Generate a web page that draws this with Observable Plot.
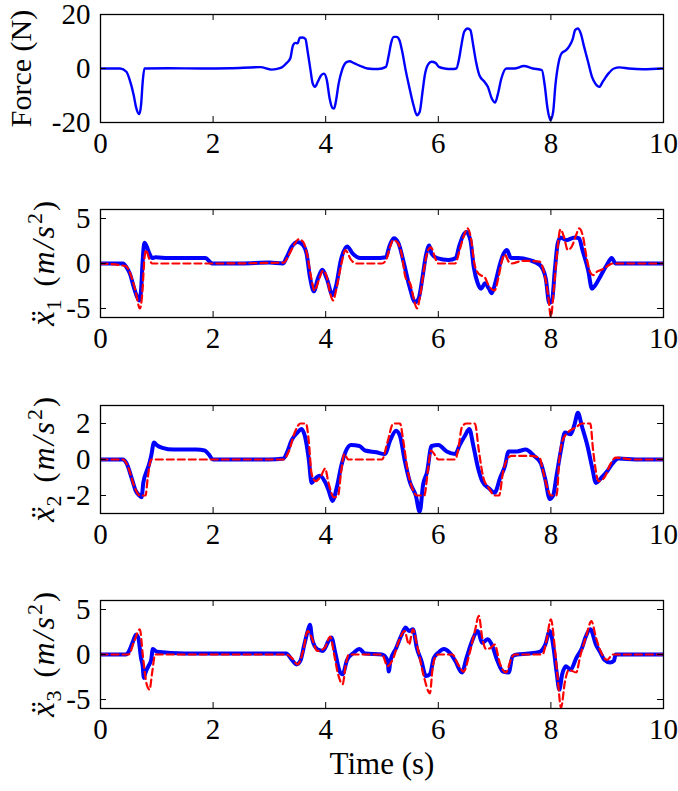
<!DOCTYPE html>
<html><head><meta charset="utf-8">
<script src="https://cdn.jsdelivr.net/npm/d3@7"></script>
<script src="https://cdn.jsdelivr.net/npm/@observablehq/plot@0.6"></script>
<style>
body{margin:0;background:#fff;}
#wrap{position:relative;width:678px;height:791px;overflow:hidden;}
#wrap > svg{position:absolute;left:0;}
</style></head><body><div id="wrap"></div>
<script>
// ---- data (time s, value) ----
const xTicks = [0, 2, 4, 6, 8, 10];
const forceTicks = [-20, 0, 20];
const acc1Ticks = [-5, 0, 5];
const acc2Ticks = [-2, 0, 2];
const acc3Ticks = [-5, 0, 5];

const force = [[0,0],[0.35,0],[0.46,-1.2],[0.52,-4.3],[0.59,-9.9],[0.63,-14.2],[0.69,-16.9],[0.72,-13.6],[0.75,-4.9],[0.78,0],[1.2,0.1],[1.8,0],[2.3,0.1],[2.84,0.5],[3.04,-0.4],[3.2,0.2],[3.3,1.9],[3.37,3.7],[3.42,8.6],[3.46,9.5],[3.5,9.3],[3.54,11.4],[3.59,11.5],[3.64,10.9],[3.68,6.2],[3.73,-0.6],[3.77,-5.6],[3.81,-6.8],[3.86,-4.9],[3.92,-2.5],[3.97,-1.9],[4.02,-4.3],[4.07,-11.1],[4.12,-14.6],[4.15,-14.8],[4.18,-12.3],[4.23,-5.6],[4.29,-0.6],[4.36,2.2],[4.42,2.7],[4.51,1.9],[4.61,1.0],[4.74,0],[4.93,-0.2],[5.07,0.6],[5.12,4.9],[5.16,9.3],[5.21,11.7],[5.26,11.7],[5.31,10.5],[5.36,6.2],[5.42,-0.6],[5.49,-7.4],[5.56,-13.6],[5.62,-17.3],[5.67,-16.0],[5.72,-8.6],[5.76,-2.5],[5.82,1.5],[5.88,2.5],[5.95,2.1],[6.01,0.6],[6.11,0],[6.24,-0.2],[6.32,0],[6.37,3.7],[6.41,8.6],[6.46,13.6],[6.52,14.8],[6.57,14.2],[6.62,8.6],[6.67,2.5],[6.73,-2.5],[6.82,-4.9],[6.88,-6.8],[6.95,-11.1],[7.01,-12.6],[7.06,-9.3],[7.12,-3.7],[7.21,0],[7.35,0],[7.52,0.9],[7.68,0],[7.84,-0.6],[7.89,-6.2],[7.94,-14.8],[7.99,-19.1],[8.04,-16.0],[8.08,-6.2],[8.14,2.5],[8.19,5.6],[8.27,6.8],[8.33,8.4],[8.39,11.1],[8.43,14.2],[8.48,14.8],[8.53,13.0],[8.59,8.0],[8.66,2.5],[8.73,-3.1],[8.79,-5.6],[8.86,-6.8],[8.92,-4.9],[9.02,-1.9],[9.12,0],[9.22,0.4],[9.38,0],[9.64,-0.3],[10,0]];

const acc1Measured = [[0,0],[0.4,0],[0.46,-0.4],[0.52,-1.1],[0.59,-2.6],[0.65,-3.7],[0.69,-4.1],[0.72,-3.0],[0.75,0.4],[0.78,2.3],[0.82,1.9],[0.87,1.1],[0.92,0.6],[0.98,0.7],[1.2,0.6],[1.5,0.6],[1.86,0.6],[1.99,0],[2.5,0],[3.0,0.1],[3.24,0],[3.3,0.6],[3.4,1.9],[3.5,2.4],[3.59,2.1],[3.66,1.1],[3.72,-1.5],[3.79,-3.1],[3.86,-1.7],[3.94,-0.7],[4.02,-1.7],[4.12,-3.5],[4.18,-2.6],[4.27,0.4],[4.38,1.9],[4.48,1.1],[4.61,0.6],[4.87,0.6],[5.07,0.7],[5.13,1.9],[5.21,2.8],[5.29,2.3],[5.39,0],[5.49,-2.6],[5.59,-4.3],[5.65,-3.9],[5.72,-1.5],[5.78,0.9],[5.84,2.0],[5.88,1.1],[5.98,0.6],[6.18,0.4],[6.31,0.6],[6.37,1.9],[6.44,3.1],[6.5,3.5],[6.57,2.6],[6.63,-0.4],[6.7,-2.2],[6.76,-2.8],[6.83,-2.2],[6.9,-2.8],[6.95,-3.3],[7.01,-2.2],[7.09,-0.2],[7.16,1.1],[7.22,1.5],[7.29,0.6],[7.42,0.6],[7.61,0.4],[7.81,-0.2],[7.91,-1.7],[7.97,-4.4],[8.02,-4.1],[8.07,-0.7],[8.12,2.2],[8.17,2.9],[8.27,2.6],[8.37,2.8],[8.43,2.9],[8.5,2.8],[8.56,1.5],[8.66,-0.7],[8.73,-2.8],[8.79,-2.4],[8.89,-1.3],[8.99,-0.2],[9.08,0.6],[9.15,0],[9.5,0],[10,0]];
const acc1Model = [[0,0],[0.45,-0.3],[0.55,-1.5],[0.62,-3.0],[0.7,-5.0],[0.74,-3.5],[0.78,0.5],[0.81,1.5],[0.86,0.6],[0.92,0],[1.5,0],[2.0,0],[3.25,0.1],[3.35,1.0],[3.45,2.2],[3.52,2.7],[3.6,2.4],[3.67,1.0],[3.74,-1.5],[3.8,-3.0],[3.88,-1.8],[3.95,-0.8],[4.02,-1.5],[4.08,-3.3],[4.13,-4.1],[4.2,-2.5],[4.28,0],[4.35,1.5],[4.45,0.4],[4.55,0],[5.0,0],[5.08,0.5],[5.14,1.8],[5.2,2.6],[5.28,2.3],[5.35,1.0],[5.42,-1.6],[5.5,-2.2],[5.56,-3.8],[5.62,-5.0],[5.68,-3.5],[5.75,-0.5],[5.82,1.5],[5.87,1.8],[5.95,0.5],[6.0,0],[6.3,0],[6.38,1.5],[6.45,3.0],[6.52,3.9],[6.58,2.8],[6.64,0],[6.7,-1.0],[6.75,-1.3],[6.82,-1.5],[6.9,-2.5],[7.0,-3.0],[7.07,-1.5],[7.13,0.3],[7.18,1.0],[7.25,0.2],[7.3,0],[7.5,0.3],[7.8,0.2],[7.88,-1.0],[7.95,-3.5],[8.0,-5.9],[8.05,-3.0],[8.1,0.5],[8.17,3.8],[8.23,3.0],[8.3,1.5],[8.38,2.0],[8.45,3.2],[8.5,3.9],[8.57,3.0],[8.63,0.8],[8.7,-1.0],[8.75,-1.3],[8.82,-0.9],[8.9,-0.7],[9.0,-0.3],[9.1,0],[10,0]];

const acc2Measured = [[0,0],[0.4,0],[0.46,-0.2],[0.56,-1.1],[0.62,-1.7],[0.69,-2.0],[0.73,-2.1],[0.76,-1.3],[0.82,-0.65],[0.86,-0.3],[0.9,0.2],[0.95,0.95],[1.0,0.8],[1.1,0.65],[1.3,0.55],[1.5,0.55],[1.7,0.55],[1.85,0.5],[1.92,0.3],[2.0,0],[2.5,0],[3.0,0],[3.25,0.05],[3.3,0.3],[3.4,1.1],[3.5,1.5],[3.57,1.7],[3.63,1.3],[3.7,0],[3.75,-1.3],[3.8,-1.1],[3.9,-0.9],[3.98,-1.2],[4.05,-1.7],[4.12,-2.3],[4.2,-1.5],[4.28,-0.3],[4.35,0.4],[4.45,0.8],[4.6,0.75],[4.7,0.5],[4.9,0.4],[5.05,0.3],[5.15,1.1],[5.25,1.6],[5.32,1.3],[5.4,0],[5.5,-1.3],[5.6,-2.0],[5.67,-2.9],[5.73,-1.4],[5.8,-0.7],[5.88,0.75],[6.0,0.8],[6.15,0.45],[6.3,0.3],[6.38,0.8],[6.47,1.3],[6.55,1.7],[6.62,0.8],[6.7,-0.4],[6.78,-1.2],[6.9,-1.6],[7.0,-1.85],[7.1,-1.0],[7.18,-0.4],[7.25,0.45],[7.4,0.45],[7.55,0.55],[7.7,0.2],[7.82,-0.2],[7.9,-1.1],[7.98,-2.2],[8.04,-2.0],[8.1,-0.9],[8.18,0.55],[8.25,1.5],[8.35,1.4],[8.42,1.95],[8.48,2.6],[8.55,1.85],[8.65,0.75],[8.73,-0.4],[8.8,-1.3],[8.9,-1.0],[9.0,-0.65],[9.1,-0.2],[9.2,0.05],[9.5,0],[10,0]];
const acc2Model = [[0,0],[0.4,0],[0.5,-0.5],[0.6,-1.5],[0.7,-2.0],[0.8,-2.0],[0.84,-1.0],[0.9,0],[2.0,0],[3.25,0],[3.35,0.5],[3.45,1.5],[3.55,2.0],[3.65,2.0],[3.7,1.0],[3.75,-0.8],[3.82,-1.2],[3.92,-0.9],[3.99,-0.5],[4.05,-1.3],[4.15,-2.1],[4.22,-2.0],[4.27,-0.8],[4.33,0.3],[4.4,0],[5.0,0],[5.1,1.0],[5.2,2.0],[5.32,2.0],[5.38,1.0],[5.45,-0.5],[5.55,-1.7],[5.62,-2.0],[5.75,-2.0],[5.82,-0.5],[5.87,0.5],[5.95,0.2],[6.0,0],[6.3,0],[6.35,0.5],[6.42,1.8],[6.5,2.0],[6.65,2.0],[6.72,0.5],[6.8,-1.0],[6.9,-1.6],[7.0,-2.0],[7.08,-2.0],[7.15,-0.7],[7.22,0],[7.3,0.2],[7.6,0.2],[7.8,0.1],[7.85,-0.5],[7.95,-1.7],[8.0,-2.0],[8.1,-2.0],[8.15,0],[8.2,1.0],[8.3,1.5],[8.45,1.8],[8.55,2.0],[8.7,2.0],[8.75,0.5],[8.85,-1.2],[8.95,-1.0],[9.05,-0.3],[9.15,0.1],[9.5,0],[10,0]];

const acc3Measured = [[0,0],[0.45,0],[0.5,0.3],[0.58,1.5],[0.63,2.2],[0.67,1.9],[0.72,-0.4],[0.75,-1.3],[0.77,-2.6],[0.8,-2.0],[0.85,-1.3],[0.9,-0.6],[0.93,0.6],[1.0,0.3],[1.5,0.1],[2.5,0.1],[3.3,0.1],[3.4,-0.6],[3.48,-1.1],[3.55,-0.7],[3.62,1.1],[3.68,2.6],[3.72,3.3],[3.76,1.7],[3.85,0.6],[3.95,0.4],[4.05,1.5],[4.1,1.9],[4.17,0.2],[4.25,-1.9],[4.3,-2.2],[4.38,-0.6],[4.5,0.2],[4.6,0.6],[4.7,0.1],[5.0,0],[5.1,-0.7],[5.12,-1.9],[5.15,-0.7],[5.25,0.7],[5.35,2.2],[5.42,3.0],[5.48,2.6],[5.55,2.8],[5.62,0.7],[5.7,-0.7],[5.78,-2.4],[5.85,-2.2],[5.92,-0.4],[6.0,0.2],[6.1,0.6],[6.2,0.2],[6.3,-0.7],[6.42,-2.0],[6.5,-0.4],[6.6,1.5],[6.7,2.6],[6.78,1.3],[6.88,1.7],[6.95,1.1],[7.05,-0.7],[7.15,-1.9],[7.25,-2.0],[7.32,-0.2],[7.4,0],[7.6,0.1],[7.8,0.3],[7.9,1.1],[7.98,2.6],[8.05,0.6],[8.1,-1.9],[8.15,-3.9],[8.2,-2.2],[8.27,-1.3],[8.35,-1.7],[8.45,-0.4],[8.55,0.7],[8.62,2.0],[8.7,2.8],[8.8,1.1],[8.88,0.2],[8.95,-0.6],[9.05,-0.9],[9.12,-0.7],[9.15,0],[9.5,0],[10,0]];
const acc3Model = [[0,0],[0.5,0],[0.6,1.5],[0.7,2.8],[0.75,0],[0.82,-3.3],[0.87,-3.9],[0.92,-1.9],[0.97,0],[2.0,0],[3.3,0],[3.4,-0.4],[3.5,-1.1],[3.6,0.4],[3.68,2.6],[3.75,1.9],[3.85,0.4],[3.98,0.7],[4.08,2.0],[4.15,0],[4.22,-2.2],[4.3,-3.3],[4.36,-1.0],[4.41,0],[5.0,0],[5.1,-1.3],[5.2,-0.4],[5.3,1.5],[5.4,2.6],[5.48,1.1],[5.55,2.8],[5.62,1.1],[5.75,-2.6],[5.85,-4.3],[5.9,-1.5],[5.95,-0.2],[6.0,0],[6.25,0],[6.35,-1.1],[6.45,-1.9],[6.55,0],[6.65,2.6],[6.72,4.3],[6.78,1.9],[6.85,0.6],[6.92,0.7],[7.0,1.1],[7.1,-1.1],[7.2,-2.0],[7.3,-0.4],[7.35,0],[7.85,0],[7.92,1.5],[8.0,3.9],[8.07,0.7],[8.12,-2.6],[8.18,-5.9],[8.25,-3.0],[8.32,-1.7],[8.45,-2.0],[8.52,-0.2],[8.62,1.9],[8.72,3.7],[8.8,1.9],[8.88,0.4],[9.0,-0.6],[9.1,0],[10,0]];

const xLabel = "Time (s)";
const forceLabel = "Force (N)";
const accSubs = ["1", "2", "3"];

// ---- rendering ----
const FONT = "Liberation Serif";
const W = 678, ML = 100, MR = 15, FH = 108, FW = W - ML - MR;
const BLUE = "#0000ff", RED = "#ff0000";
const wrap = document.getElementById("wrap");

function panel({top, height, domain, ticks, measured, model, label, math, xTitle}) {
  const marks = [];
  if (measured) marks.push(Plot.line(measured, {x: d => d[0], y: d => d[1], stroke: BLUE, strokeWidth: model ? 4 : 2.4, curve: "monotone-x", clip: true}));
  if (model) marks.push(Plot.line(model, {x: d => d[0], y: d => d[1], stroke: RED, strokeWidth: 2.2, strokeDasharray: "7,4", curve: "monotone-x", clip: true}));
  const innerX = xTicks.slice(1, -1);
  marks.push(
    Plot.tickX(innerX, {x: d => d, insetBottom: FH - 6, stroke: "black", strokeWidth: 1}),
    Plot.tickX(innerX, {x: d => d, insetTop: FH - 6, stroke: "black", strokeWidth: 1}),
    Plot.tickY(ticks, {y: d => d, insetRight: FW - 6, stroke: "black", strokeWidth: 1}),
    Plot.tickY(ticks, {y: d => d, insetLeft: FW - 6, stroke: "black", strokeWidth: 1}),
    Plot.frame({stroke: "black", strokeWidth: 1.3}),
    Plot.axisX({ticks: xTicks, tickSize: 0, tickPadding: 10, tickFormat: d => String(d), fontSize: 29, fontFamily: FONT, label: null}),
    Plot.axisY({ticks, tickSize: 0, tickPadding: 10, tickFormat: d => String(d), fontSize: 29, fontFamily: FONT, label: null}),
    Plot.text([label], {text: d => d, frameAnchor: "left", textAnchor: "middle", rotate: -90, dx: math ? -56 : -79, fontSize: 30, fontFamily: FONT, className: "ylab", letterSpacing: math ? null : "2px"})
  );
  if (xTitle) marks.push(Plot.text([xTitle], {text: d => d, frameAnchor: "bottom", textAnchor: "middle", dy: 65, fontSize: 31, fontFamily: FONT, letterSpacing: "2px"}));
  const svg = Plot.plot({
    width: W, height,
    marginLeft: ML, marginRight: MR, marginTop: 14, marginBottom: height - 14 - FH,
    x: {domain: [0, 10]},
    y: {domain},
    style: {fontFamily: FONT, fontSize: "29px", color: "black", background: "transparent", overflow: "visible"},
    marks
  });
  svg.style.top = top + "px";
  if (math) {
    const t = svg.querySelector(".ylab text");
    while (t.firstChild) t.removeChild(t.firstChild);
    const add = (s, attrs) => {
      const ts = document.createElementNS("http://www.w3.org/2000/svg", "tspan");
      ts.textContent = s;
      for (const k in attrs) ts.setAttribute(k, attrs[k]);
      t.appendChild(ts);
    };
    add("x\u0308", {"font-style": "italic", "font-size": "33"});
    add(math, {"font-size": "22", dy: "7", dx: "1"});
    add("(", {dy: "-7", dx: "13"});
    add("m", {"font-style": "italic", dx: "2", "font-size": "32"});
    add("/", {"font-style": "italic", dx: "2", "font-size": "32"});
    add("s", {"font-style": "italic", dx: "2", "font-size": "32"});
    add("2", {"font-size": "22", dy: "-12", dx: "2"});
    add(")", {dy: "12", dx: "2"});
  }
  wrap.appendChild(svg);
}

panel({top: 0, height: 190, domain: [-20, 20], ticks: forceTicks, measured: force, label: forceLabel});
panel({top: 195, height: 190, domain: [-6, 6], ticks: acc1Ticks, measured: acc1Measured, model: acc1Model, label: "x1 (m/s2)", math: accSubs[0]});
panel({top: 391, height: 190, domain: [-3, 3], ticks: acc2Ticks, measured: acc2Measured, model: acc2Model, label: "x2 (m/s2)", math: accSubs[1]});
panel({top: 586, height: 205, domain: [-6, 6], ticks: acc3Ticks, measured: acc3Measured, model: acc3Model, label: "x3 (m/s2)", math: accSubs[2], xTitle: xLabel});
</script></body></html>
